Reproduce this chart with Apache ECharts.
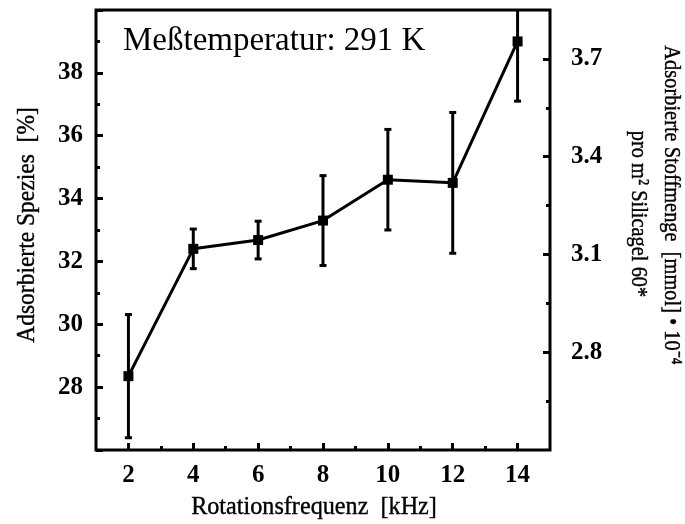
<!DOCTYPE html>
<html>
<head>
<meta charset="utf-8">
<script src="https://cdn.jsdelivr.net/npm/echarts@6/dist/echarts.min.js"></script>
<style>
  html, body { margin: 0; padding: 0; background: #fff; }
  #chart { width: 685px; height: 524px; }
</style>
</head>
<body>
<div id="chart"></div>
<script>
// Rotation frequency in kHz
const frequencies = [2, 4, 6, 8, 10, 12, 14];
// Adsorbed species in percent
const adsorbedShare = [28.35, 32.4, 32.68, 33.3, 34.6, 34.5, 39.0];
// Symmetric error of each measurement (percent)
const shareError = [1.96, 0.63, 0.6, 1.43, 1.6, 2.24, 1.9];

// Tick positions
const xMajorTicks = [2, 4, 6, 8, 10, 12, 14];
const xMinorTicks = [3, 5, 7, 9, 11, 13];
const rightMajorTicks = [2.8, 3.1, 3.4, 3.7];
const rightMinorTicks = [2.65, 2.95, 3.25, 3.55];

const serif = '"Liberation Serif", "Times New Roman", serif';
const ink = '#000';

const chart = echarts.init(document.getElementById('chart'), null, { renderer: 'canvas' });

const tickLabel = { color: ink, fontFamily: serif, fontWeight: 'bold', fontSize: 25 };
// slightly heavier strokes for the axis titles
const titleStyle = (text, size) => ({
  text, fill: ink, font: size + 'px ' + serif,
  stroke: ink, lineWidth: 0.4,
  align: 'center', verticalAlign: 'middle'
});

const option = {
  animation: false,
  backgroundColor: '#fff',
  grid: {
    left: 96, right: 135, top: 10, bottom: 74,
    show: true, borderColor: ink, borderWidth: 3, backgroundColor: 'transparent'
  },
  xAxis: [
    {
      type: 'value', min: 1, max: 15,
      axisLine: { show: false },
      splitLine: { show: false },
      axisTick: { show: true, inside: true, length: 7, customValues: xMajorTicks,
                  lineStyle: { color: ink, width: 3 } },
      axisLabel: Object.assign({ margin: 13, customValues: xMajorTicks }, tickLabel)
    },
    {
      type: 'value', min: 1, max: 15, position: 'bottom',
      axisLine: { show: false },
      splitLine: { show: false },
      axisTick: { show: true, inside: true, length: 4, customValues: xMinorTicks,
                  lineStyle: { color: ink, width: 3 } },
      axisLabel: { show: false }
    }
  ],
  yAxis: [
    {
      type: 'value', min: 26, max: 40, interval: 2, position: 'left',
      axisLine: { show: false },
      splitLine: { show: false },
      axisTick: { show: true, inside: true, length: 7, lineStyle: { color: ink, width: 3 } },
      minorTick: { show: true, splitNumber: 2, length: 4, lineStyle: { color: ink, width: 3 } },
      axisLabel: Object.assign({ margin: 13, showMinLabel: false, showMaxLabel: false }, tickLabel)
    },
    {
      type: 'value', min: 2.5, max: 3.85, position: 'right',
      axisLine: { show: false },
      splitLine: { show: false },
      axisTick: { show: true, inside: true, length: 7, customValues: rightMajorTicks,
                  lineStyle: { color: ink, width: 3 } },
      axisLabel: Object.assign({ margin: 21, customValues: rightMajorTicks,
                                 formatter: v => v.toFixed(1) }, tickLabel)
    },
    {
      type: 'value', min: 2.5, max: 3.85, position: 'right',
      axisLine: { show: false },
      splitLine: { show: false },
      axisTick: { show: true, inside: true, length: 4, customValues: rightMinorTicks,
                  lineStyle: { color: ink, width: 3 } },
      axisLabel: { show: false }
    }
  ],
  series: [
    {
      // vertical error bars with end caps
      type: 'custom',
      xAxisIndex: 0, yAxisIndex: 0,
      clip: true,
      z: 2,
      data: frequencies.map((f, i) => [f, adsorbedShare[i], shareError[i]]),
      renderItem: (params, api) => {
        const x = api.value(0), y = api.value(1), e = api.value(2);
        const top = api.coord([x, y + e]);
        const bot = api.coord([x, y - e]);
        const hw = 3.5;
        const st = { stroke: ink, lineWidth: 3 };
        return {
          type: 'group',
          children: [
            { type: 'line', shape: { x1: top[0], y1: top[1], x2: bot[0], y2: bot[1] }, style: st },
            { type: 'line', shape: { x1: top[0] - hw, y1: top[1], x2: top[0] + hw, y2: top[1] }, style: st },
            { type: 'line', shape: { x1: bot[0] - hw, y1: bot[1], x2: bot[0] + hw, y2: bot[1] }, style: st }
          ]
        };
      }
    },
    {
      type: 'line',
      xAxisIndex: 0, yAxisIndex: 0,
      z: 3,
      data: frequencies.map((f, i) => [f, adsorbedShare[i]]),
      symbol: 'rect',
      symbolSize: 10,
      lineStyle: { color: ink, width: 3 },
      itemStyle: { color: ink }
    }
  ],
  graphic: [
    {
      type: 'text', left: 123, top: 25,
      style: { text: 'Meßtemperatur: 291 K', fill: ink, font: '33px ' + serif }
    },
    {
      type: 'text', x: 314, y: 507, scaleX: 0.93,
      style: titleStyle('Rotationsfrequenz  [kHz]', 26)
    },
    {
      type: 'text', x: 27, y: 225, rotation: Math.PI / 2, scaleX: 0.94,
      style: titleStyle('Adsorbierte Spezies  [%]', 25)
    },
    {
      type: 'text', x: 671, y: 205, rotation: -Math.PI / 2, scaleX: 0.85,
      style: titleStyle('Adsorbierte Stoffmenge  [mmol] • 10⁻⁴', 24)
    },
    {
      type: 'text', x: 638, y: 214, rotation: -Math.PI / 2, scaleX: 0.85,
      style: titleStyle('pro m² Silicagel 60*', 24)
    }
  ]
};

chart.setOption(option);
</script>
</body>
</html>
